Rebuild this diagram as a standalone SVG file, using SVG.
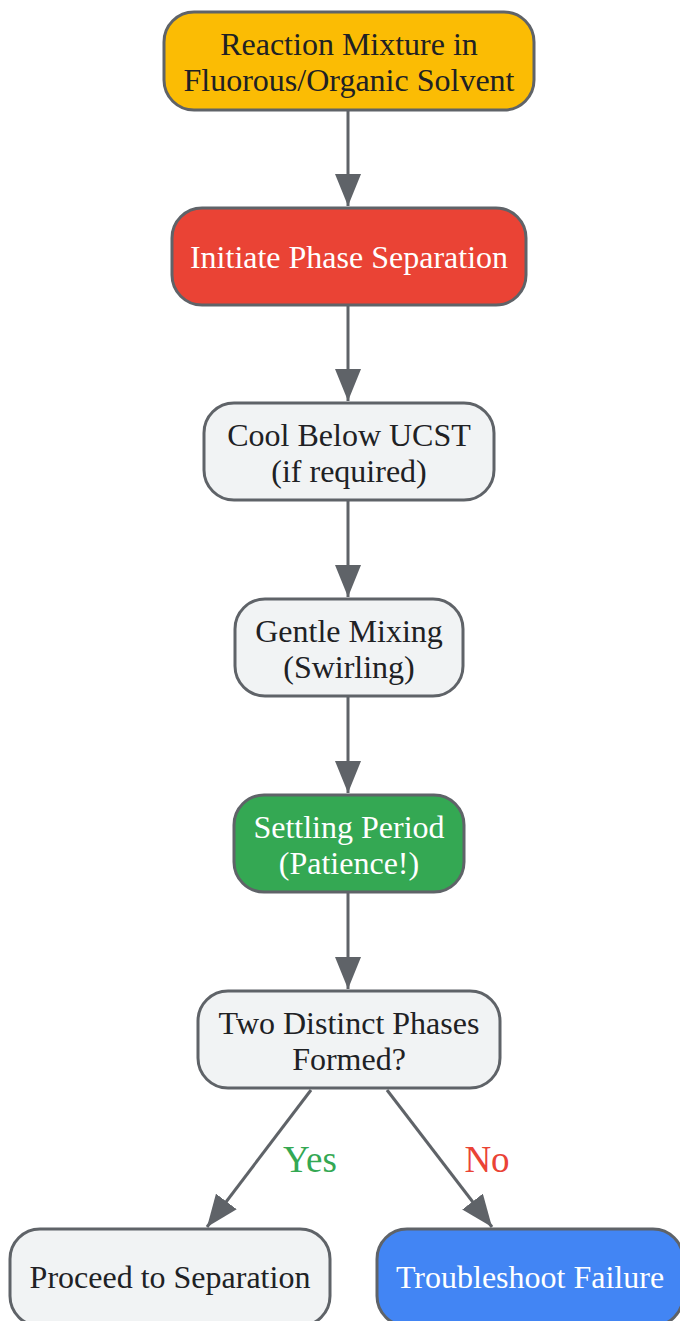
<svg xmlns="http://www.w3.org/2000/svg" width="680" height="1321" viewBox="0 0 680 1321">
<defs>
<style>
.n rect{stroke:#5f6368;stroke-width:3}
.t{font-family:"Liberation Serif","Times New Roman",serif;font-size:32px;text-anchor:middle;fill:#202124}
.w{fill:#ffffff}
.e{stroke:#5f6368;stroke-width:3;fill:none}
.lbl{font-family:"Liberation Serif","Times New Roman",serif;font-size:37px;text-anchor:middle}
</style>
<marker id="ah" viewBox="0 0 32 26" refX="32" refY="13" markerUnits="userSpaceOnUse" markerWidth="32" markerHeight="26" orient="auto">
<path d="M0,0 L32,13 L0,26 Z" fill="#5f6368"/>
</marker>
</defs>
<rect width="680" height="1321" fill="#ffffff"/>
<g id="edges">
<line class="e" x1="348" y1="111" x2="348" y2="206" marker-end="url(#ah)"/>
<line class="e" x1="348" y1="306" x2="348" y2="401" marker-end="url(#ah)"/>
<line class="e" x1="348" y1="501" x2="348" y2="597" marker-end="url(#ah)"/>
<line class="e" x1="348" y1="697" x2="348" y2="793" marker-end="url(#ah)"/>
<line class="e" x1="348" y1="893" x2="348" y2="989" marker-end="url(#ah)"/>
<line class="e" x1="311" y1="1090" x2="207" y2="1227" marker-end="url(#ah)"/>
<line class="e" x1="387" y1="1090" x2="492" y2="1227" marker-end="url(#ah)"/>
<text class="lbl" x="310" y="1172" fill="#34a853">Yes</text>
<text class="lbl" x="487" y="1172" fill="#ea4335">No</text>
</g>
<g id="n1" class="n">
<rect x="164" y="12" width="370" height="98" rx="30" fill="#fbbc04"/>
<text class="t" x="349" y="55">Reaction Mixture in</text>
<text class="t" x="349" y="91">Fluorous/Organic Solvent</text>
</g>
<g id="n2" class="n">
<rect x="172" y="208" width="354" height="97" rx="30" fill="#ea4335"/>
<text class="t w" x="349" y="268">Initiate Phase Separation</text>
</g>
<g id="n3" class="n">
<rect x="204" y="403" width="290" height="97" rx="30" fill="#f1f3f4"/>
<text class="t" x="349" y="446">Cool Below UCST</text>
<text class="t" x="349" y="482">(if required)</text>
</g>
<g id="n4" class="n">
<rect x="235" y="599" width="228" height="97" rx="30" fill="#f1f3f4"/>
<text class="t" x="349" y="642">Gentle Mixing</text>
<text class="t" x="349" y="678">(Swirling)</text>
</g>
<g id="n5" class="n">
<rect x="234" y="795" width="230" height="97" rx="30" fill="#34a853"/>
<text class="t w" x="349" y="838">Settling Period</text>
<text class="t w" x="349" y="874">(Patience!)</text>
</g>
<g id="n6" class="n">
<rect x="198" y="991" width="302" height="97" rx="30" fill="#f1f3f4"/>
<text class="t" x="349" y="1034">Two Distinct Phases</text>
<text class="t" x="349" y="1070">Formed?</text>
</g>
<g id="n7" class="n">
<rect x="10" y="1229" width="320" height="97" rx="30" fill="#f1f3f4"/>
<text class="t" x="170" y="1288">Proceed to Separation</text>
</g>
<g id="n8" class="n">
<rect x="377" y="1229" width="306" height="97" rx="30" fill="#4285f4"/>
<text class="t w" x="530" y="1288">Troubleshoot Failure</text>
</g>
</svg>
